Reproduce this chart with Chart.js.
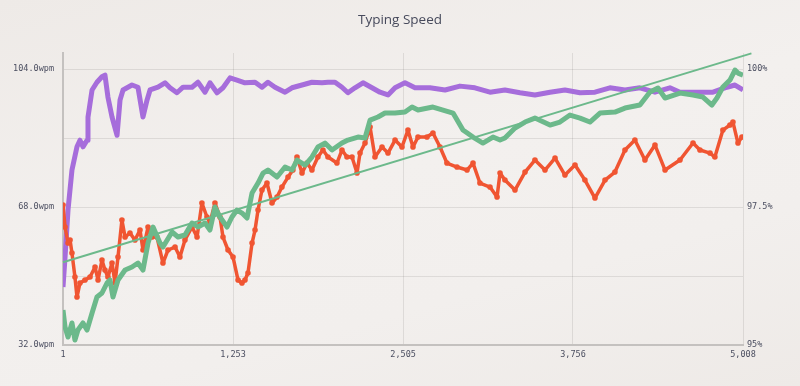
<!DOCTYPE html>
<html>
<head>
<meta charset="utf-8">
<script src="https://cdn.jsdelivr.net/npm/chart.js@4.4.1/dist/chart.umd.min.js"></script>
<style>
  html, body { margin: 0; padding: 0; }
  body {
    width: 800px; height: 386px; overflow: hidden;
    background: linear-gradient(165deg, #eeeae7 0%, #f3f0ee 45%, #f2efed 70%, #eeeae7 100%);
  }
  #wrap { position: relative; width: 800px; height: 386px; }
</style>
</head>
<body>
<div id="wrap"><canvas id="speedChart"></canvas></div>
<script>
// ---- DATA ----
const xTicks = [1, 1253, 2505, 3756, 5008];
const wpmTicks = [32, 50, 68, 86, 104];
const wpmLabels = ['32.0wpm', '', '68.0wpm', '', '104.0wpm'];
const accTicks = [95, 97.5, 100];
const accLabels = ['95%', '97.5%', '100%'];

// accuracy (right axis)
const accX = [1, 16, 38, 67, 104, 126, 148, 178, 185, 215, 251, 288, 310, 332, 362, 399, 421, 443, 509, 553, 590, 620, 642, 700, 752, 789, 840, 885, 951, 995, 1047, 1083, 1135, 1179, 1231, 1282, 1341, 1415, 1466, 1510, 1562, 1636, 1687, 1761, 1834, 1908, 1952, 2004, 2055, 2099, 2151, 2210, 2276, 2335, 2394, 2446, 2519, 2593, 2703, 2814, 2924, 3034, 3145, 3255, 3366, 3476, 3587, 3697, 3808, 3918, 4028, 4139, 4249, 4360, 4470, 4544, 4691, 4787, 4890, 4949, 5008];
const accY = [96.05, 96.59, 97.45, 98.17, 98.59, 98.71, 98.59, 98.71, 99.13, 99.62, 99.76, 99.86, 99.89, 99.49, 99.13, 98.80, 99.44, 99.62, 99.71, 99.67, 99.13, 99.44, 99.62, 99.67, 99.75, 99.66, 99.57, 99.67, 99.67, 99.76, 99.58, 99.75, 99.57, 99.66, 99.84, 99.80, 99.75, 99.76, 99.67, 99.76, 99.67, 99.58, 99.66, 99.71, 99.76, 99.75, 99.76, 99.76, 99.67, 99.57, 99.66, 99.75, 99.66, 99.58, 99.53, 99.66, 99.75, 99.66, 99.66, 99.62, 99.69, 99.66, 99.58, 99.62, 99.57, 99.53, 99.58, 99.62, 99.57, 99.58, 99.66, 99.62, 99.66, 99.58, 99.66, 99.58, 99.58, 99.58, 99.67, 99.71, 99.62];

// raw wpm (orange)
const rawX = [1, 16, 38, 53, 67, 89, 104, 126, 163, 200, 237, 259, 288, 310, 332, 362, 384, 406, 435, 458, 494, 531, 568, 590, 627, 656, 693, 737, 774, 826, 862, 899, 951, 988, 1024, 1061, 1083, 1120, 1157, 1179, 1216, 1253, 1290, 1319, 1341, 1363, 1393, 1415, 1437, 1466, 1503, 1540, 1577, 1613, 1658, 1694, 1724, 1761, 1798, 1834, 1878, 1915, 1952, 2018, 2055, 2092, 2129, 2166, 2188, 2225, 2262, 2298, 2350, 2394, 2446, 2497, 2541, 2578, 2615, 2681, 2725, 2777, 2828, 2902, 2976, 3020, 3071, 3145, 3197, 3219, 3255, 3329, 3403, 3476, 3550, 3624, 3697, 3771, 3844, 3918, 3992, 4065, 4139, 4212, 4286, 4360, 4434, 4544, 4640, 4691, 4765, 4801, 4860, 4912, 4934, 4971, 5000];
const rawY = [68.53, 62.79, 58.61, 59.39, 56.00, 49.74, 44.52, 48.18, 48.96, 49.74, 52.35, 48.96, 54.18, 51.57, 49.74, 53.39, 48.18, 54.96, 64.61, 60.18, 61.22, 59.39, 62.00, 56.79, 62.79, 60.18, 60.18, 53.39, 56.79, 57.57, 54.96, 59.39, 62.79, 60.18, 69.05, 65.40, 63.83, 69.05, 65.40, 60.18, 56.79, 54.96, 48.96, 48.18, 48.96, 50.79, 58.61, 62.00, 67.22, 72.44, 74.27, 69.05, 70.61, 73.22, 75.83, 77.66, 81.05, 76.87, 79.48, 77.66, 81.05, 82.88, 81.05, 79.48, 82.88, 81.05, 81.05, 76.87, 82.09, 84.70, 88.88, 81.05, 83.66, 82.09, 85.48, 83.66, 88.09, 83.66, 86.27, 86.27, 87.31, 83.66, 79.48, 78.44, 77.66, 79.48, 74.27, 73.22, 70.61, 76.87, 75.05, 72.44, 77.14, 80.27, 77.66, 80.79, 76.35, 78.96, 75.05, 70.35, 75.05, 77.14, 82.88, 85.48, 80.27, 84.18, 77.66, 80.27, 84.70, 82.88, 82.09, 81.05, 88.09, 89.40, 90.18, 84.70, 86.27];

// smoothed wpm (green)
const avgX = [1, 16, 38, 67, 89, 111, 148, 178, 215, 251, 288, 325, 347, 369, 406, 458, 509, 553, 590, 627, 664, 715, 737, 804, 848, 899, 951, 995, 1047, 1083, 1120, 1157, 1209, 1245, 1282, 1319, 1356, 1393, 1437, 1474, 1510, 1577, 1636, 1687, 1724, 1783, 1834, 1878, 1930, 1982, 2055, 2099, 2173, 2225, 2262, 2320, 2372, 2446, 2519, 2571, 2615, 2725, 2873, 2946, 3020, 3093, 3167, 3219, 3255, 3329, 3403, 3476, 3587, 3660, 3734, 3808, 3881, 3955, 4065, 4139, 4249, 4323, 4382, 4434, 4544, 4640, 4713, 4779, 4816, 4860, 4912, 4949, 4971, 5008];
const avgY = [41.13, 36.70, 34.09, 37.74, 33.30, 35.91, 37.74, 35.91, 40.35, 44.52, 45.57, 48.18, 48.96, 44.52, 48.96, 51.57, 52.35, 53.39, 51.57, 58.61, 62.79, 58.61, 57.57, 61.48, 60.18, 60.70, 63.83, 62.79, 63.83, 62.00, 68.00, 65.40, 62.79, 65.40, 67.22, 66.44, 65.13, 71.66, 74.27, 76.87, 77.66, 75.83, 78.44, 77.66, 80.27, 78.96, 81.05, 83.66, 84.70, 82.88, 84.70, 85.48, 86.27, 86.01, 90.70, 91.49, 92.53, 92.53, 92.79, 94.09, 93.31, 94.09, 92.53, 88.09, 86.27, 84.70, 86.27, 85.48, 86.01, 88.62, 90.18, 91.22, 89.40, 90.18, 92.01, 91.22, 90.18, 92.53, 92.79, 93.83, 94.62, 98.01, 99.05, 96.44, 97.75, 97.23, 96.70, 94.62, 96.44, 99.31, 101.14, 103.75, 102.96, 102.44];

// linear trend of wpm
const trendX = [1, 5070];
const trendY = [53.6, 108.1];

// ---- COLOURS ----
const cAcc = '#a66ddb';
const cRaw = '#f05532';
const cAvg = '#6cb98b';
const gridCol = 'rgba(0,0,0,0.085)';
const axisCol = '#c4c1bf';
const tickCol = '#4b4e60';
const mono = "'DejaVu Sans Mono', monospace";

const pts = (xs, ys) => xs.map((x, i) => ({ x, y: ys[i] }));

new Chart(document.getElementById('speedChart'), {
  type: 'line',
  data: {
    datasets: [
      {
        label: 'Trend',
        data: pts(trendX, trendY),
        yAxisID: 'y',
        borderColor: cAvg,
        borderWidth: 2,
        pointRadius: 0,
        clip: false,
        order: 0,
      },
      {
        label: 'Average',
        data: pts(avgX, avgY),
        yAxisID: 'y',
        borderColor: cAvg,
        borderWidth: 5,
        pointRadius: 0,
        borderJoinStyle: 'round',
        order: 1,
      },
      {
        label: 'Speed',
        data: pts(rawX, rawY),
        yAxisID: 'y',
        borderColor: cRaw,
        backgroundColor: cRaw,
        borderWidth: 3.5,
        pointRadius: 2.8,
        pointBorderWidth: 0,
        borderJoinStyle: 'round',
        order: 2,
      },
      {
        label: 'Accuracy',
        data: pts(accX, accY),
        yAxisID: 'acc',
        borderColor: cAcc,
        borderWidth: 5,
        pointRadius: 0,
        borderJoinStyle: 'round',
        order: 3,
      },
    ]
  },
  options: {
    responsive: true,
    maintainAspectRatio: false,
    animation: false,
    layout: { padding: { top: 0, right: 0, bottom: 0, left: 0 } },
    plugins: {
      legend: { display: false },
      tooltip: { enabled: false },
      title: {
        display: true,
        text: 'Typing Speed',
        color: '#474a5c',
        font: { family: "'Open Sans', sans-serif", size: 13.5, weight: 'normal' },
        padding: { top: 12, bottom: 24.8 },
      },
    },
    scales: {
      x: {
        type: 'linear',
        min: 1,
        max: 5008,
        afterBuildTicks: s => { s.ticks = xTicks.map(v => ({ value: v })); },
        afterFit: s => { s.height = 41; },
        grid: { color: gridCol, drawTicks: false },
        border: { color: axisCol, width: 2 },
        ticks: {
          color: tickCol,
          padding: 5,
          maxRotation: 0,
          font: { family: mono, size: 8.5 },
          callback: v => Math.round(v).toLocaleString('en-US'),
        },
      },
      y: {
        position: 'left',
        min: 32,
        max: 108.2,
        afterBuildTicks: s => { s.ticks = wpmTicks.map(v => ({ value: v })); },
        afterFit: s => { s.width = 63; },
        grid: { color: gridCol, drawTicks: false },
        border: { color: axisCol, width: 2 },
        ticks: {
          color: tickCol,
          padding: 9,
          font: { family: mono, size: 8.5 },
          callback: (v, i) => wpmLabels[i],
        },
      },
      acc: {
        position: 'right',
        min: 95,
        max: 100.29,
        afterBuildTicks: s => { s.ticks = accTicks.map(v => ({ value: v })); },
        afterFit: s => { s.width = 57; },
        grid: { display: false, drawTicks: false },
        border: { display: false },
        ticks: {
          color: tickCol,
          padding: 4,
          font: { family: mono, size: 8.5 },
          callback: (v, i) => accLabels[i],
        },
      },
    },
  }
});
</script>
</body>
</html>
